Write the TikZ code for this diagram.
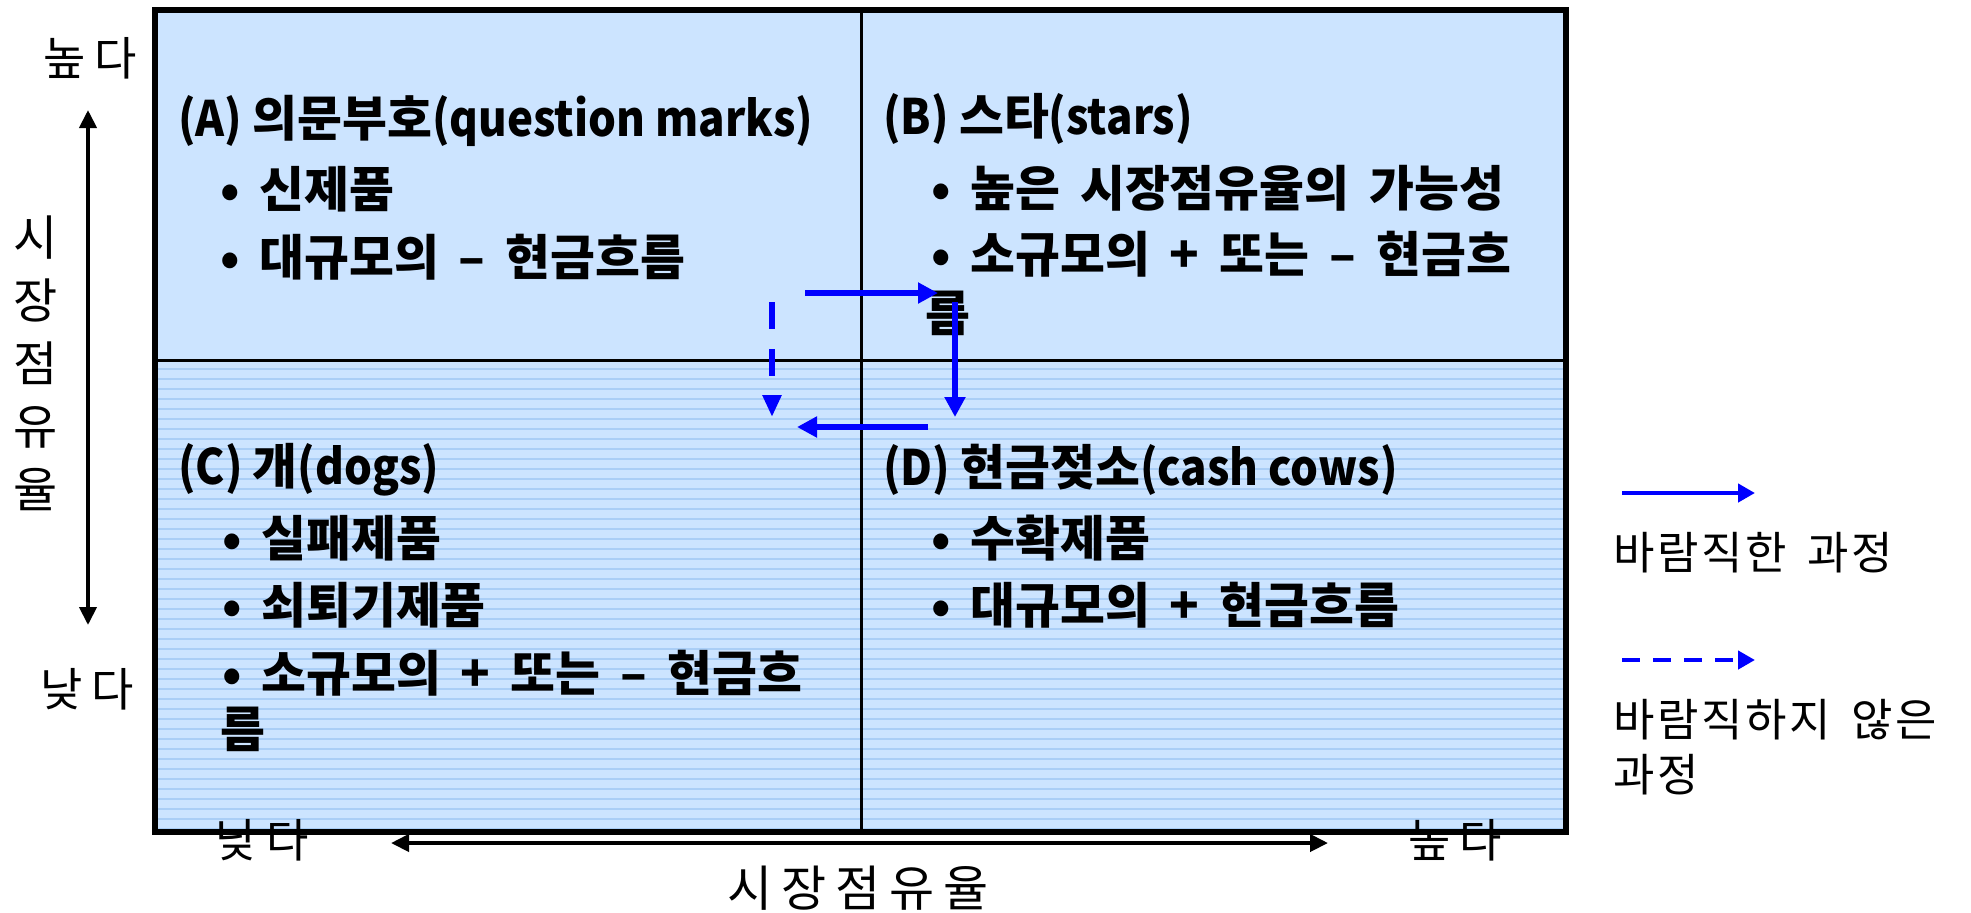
\documentclass[tikz,border=0pt]{standalone}
\usepackage{fontspec}
\usepackage{graphicx}
\setmainfont{Noto Sans CJK KR}
\newfontfamily\sfontl{Noto Sans CJK KR}[LetterSpace=6]
\newfontfamily\wfont{Noto Sans CJK KR}[LetterSpace=18]
\usetikzlibrary{arrows.meta}
\definecolor{fillblue}{RGB}{204,228,255}
\definecolor{lineblue}{RGB}{170,206,246}
\definecolor{arrblue}{RGB}{0,0,255}
\newcommand{\lat}[1]{\scalebox{0.9}[1]{#1}}
\newcommand{\bul}{\makebox[29pt][c]{•}}
\newcommand{\ks}{\hspace{10pt}}
\newcommand{\ls}{\hspace{10pt}}
\tikzset{
  qtitle/.style={anchor=west, inner sep=0pt, font=\bfseries\fontsize{24.4}{28}\selectfont},
  qitem/.style={anchor=west, inner sep=0pt, font=\bfseries\fontsize{24.4}{28}\selectfont},
  axlab/.style={inner sep=0pt, font=\wfont\fontsize{23}{23}\selectfont},
  leglab/.style={anchor=west, inner sep=0pt, align=left, font=\sfontl\fontsize{22.5}{27.5}\selectfont},
  flow/.style={draw=arrblue, line width=3pt, -{Triangle[length=10pt,width=10pt]}},
  badflow/.style={draw=arrblue, line width=3pt, dash pattern=on 13.5pt off 10pt, -{Triangle[length=11pt,width=9pt]}},
  legflow/.style={draw=arrblue, line width=2.2pt, -{Triangle[length=8.5pt,width=9pt]}},
  legbad/.style={draw=arrblue, line width=2.2pt, dash pattern=on 9pt off 6.5pt, -{Triangle[length=8.5pt,width=9pt]}},
  axarrow/.style={draw=black, line width=2pt, {Triangle[length=9pt,width=8.5pt]}-{Triangle[length=9pt,width=8.5pt]}},
}
\begin{document}
\begin{tikzpicture}[x=0.5pt,y=-0.5pt]
\useasboundingbox (0,0) rectangle (1971,912);
% background of the matrix
\fill[fillblue] (155,10) rectangle (1566,832);
\foreach \yy in {369,379,...,829} \draw[lineblue, line width=0.6pt] (158,\yy) -- (1563,\yy);

% quadrant A
\node[qtitle] (At) at (178,121) {\lat{(A) }의문부호\lat{(question marks)}};
\node[qitem] (A1) at (201,189) {\bul{}신제품};
\node[qitem] (A2) at (201,257) {\bul{}대규모의\ks{}–\ks{}현금흐름};
% quadrant B
\node[qtitle] (Bt) at (883,119) {\lat{(B) }스타\lat{(stars)}};
\node[qitem] (B1) at (912,188) {\bul{}높은\ks{}시장점유율의\ks{}가능성};
\node[qitem] (B2) at (912,254) {\bul{}소규모의\ks{}+\ks{}또는\ks{}–\ks{}현금흐};
\node[qitem] (B2b) at (925,313) {름};
% quadrant C
\node[qtitle] (Ct) at (178,470) {\lat{(C) }개\lat{(dogs)}};
\node[qitem] (C1) at (203,538) {\bul{}실패제품};
\node[qitem] (C2) at (203,605) {\bul{}쇠퇴기제품};
\node[qitem] (C3) at (203,673) {\bul{}소규모의\ks{}+\ks{}또는\ks{}–\ks{}현금흐};
\node[qitem] (C3b) at (220,729) {름};
% quadrant D
\node[qtitle] (Dt) at (883,470) {\lat{(D) }현금젖소\lat{(cash cows)}};
\node[qitem] (D1) at (912,538) {\bul{}수확제품};
\node[qitem] (D2) at (912,605) {\bul{}대규모의\ks{}+\ks{}현금흐름};

% bottom axis labels (partly under the frame)
\node[axlab] (xlo) at (262,840) {낮다};
\node[axlab] (xhi) at (1455,840) {높다};

% dividing lines and frame
\draw[line width=1.5pt] (861,10) -- (861,832);
\draw[line width=1.5pt] (155,360) -- (1566,360);
\draw[line width=3pt] (155,10) rectangle (1566,832);

% flow arrows
\coordinate (f1s) at (805,293);
\coordinate (f1e) at (938,293);
\coordinate (f2s) at (955,302);
\coordinate (f2e) at (955,417);
\coordinate (f3s) at (928,427);
\coordinate (f3e) at (797,427);
\coordinate (d1s) at (772,302);
\coordinate (d1e) at (772,417);
\draw[flow] (f1s) -- (f1e);
\draw[flow] (f2s) -- (f2e);
\draw[flow] (f3s) -- (f3e);
\draw[badflow] (d1s) -- (d1e);

% vertical axis
\node[axlab] (yhi) at (90,58) {높다};
\node[axlab] (ylo) at (87,689) {낮다};
\node[inner sep=0pt, align=center, font=\fontsize{24}{31.5}\selectfont] (ytitle) at (36,363) {시\\장\\점\\유\\율};
\coordinate (ya) at (88,110);
\coordinate (yb) at (88,625);
\draw[axarrow] (ya) -- (yb);

% horizontal axis
\coordinate (xa) at (391,843);
\coordinate (xb) at (1328,843);
\draw[axarrow] (xa) -- (xb);
\node[inner sep=0pt, font=\wfont\fontsize{24.5}{24.5}\selectfont] (xtitle) at (858,888) {시장점유율};

% legend
\coordinate (l1s) at (1622,493);
\coordinate (l1e) at (1755,493);
\draw[legflow] (l1s) -- (l1e);
\node[leglab] (l1t) at (1613,553) {바람직한\ls{}과정};
\coordinate (l2s) at (1622,660);
\coordinate (l2e) at (1755,660);
\draw[legbad] (l2s) -- (l2e);
\node[leglab] (l2t) at (1613,747.5) {바람직하지\ls{}않은\\과정};
\end{tikzpicture}
\end{document}
